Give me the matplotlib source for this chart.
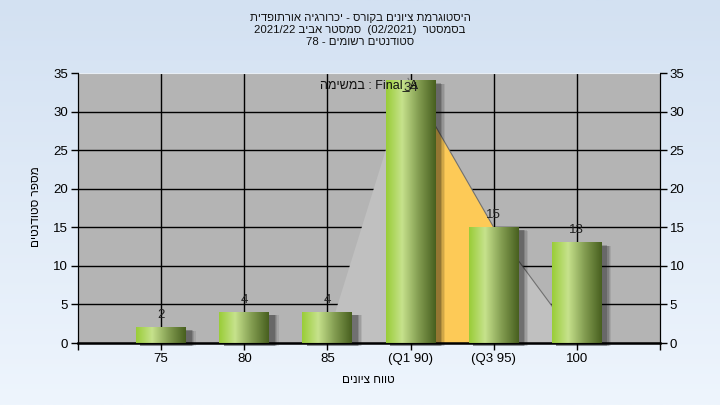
import matplotlib
matplotlib.use('Agg')
import matplotlib.pyplot as plt
from matplotlib.colors import LinearSegmentedColormap
from matplotlib.patches import Rectangle, Polygon
import numpy as np

plt.rcParams['font.family'] = ['Liberation Sans', 'DejaVu Sans']

# data
categories = ['75', '80', '85', '(Q1 90)', '(Q3 95)', '100']
counts = [2, 4, 4, 34, 15, 13]
# approximate distribution curve drawn behind the bars (index units, students)
curve_x = [1.98, 2.97, 4.0, 5.03]
curve_y = [0, 34.3, 15.0, 0]
q1_index = 3
q3_index = 4

# Hebrew text already in visual (left to right) order
title_lines = ['תידפותרוא היגרורכי - סרוקב םינויצ תמרגוטסיה',
               '2021/22 ביבא רטסמס  (02/2021)  רטסמסב',
               '78 - םימושר םיטנדוטס']
task_label = 'המישמב : Final_A'
x_label = 'םינויצ חווט'
y_label = 'םיטנדוטס רפסמ'

fig = plt.figure(figsize=(7.2, 4.05), dpi=100)

# background gradient
bg = fig.add_axes([0, 0, 1, 1], zorder=-10)
bg_cmap = LinearSegmentedColormap.from_list('bg', ['#d3e1f2', '#eef5fd'])
bg.imshow(np.linspace(0, 1, 256).reshape(-1, 1), cmap=bg_cmap, aspect='auto',
          extent=(0, 1, 0, 1), origin='upper')
bg.axis('off')

ax = fig.add_axes([78 / 720, 62 / 405, 582 / 720, 270 / 405])
ax.set_facecolor('#b4b4b4')
n = len(categories)
xs = np.arange(n)

# grid
for y in range(5, 35, 5):
    ax.axhline(y, color='black', lw=1.0, zorder=1)
for x in xs:
    ax.axvline(x, color='black', lw=1.0, zorder=1)

# distribution area
ax.add_patch(Polygon(list(zip(curve_x, curve_y)), closed=True, facecolor='#c0c0c0',
                     edgecolor='none', zorder=2))
qx = [q1_index, q3_index]
qy = list(np.interp(qx, curve_x, curve_y))
ax.add_patch(Polygon([(qx[0], 0), (qx[0], qy[0]), (qx[1], qy[1]), (qx[1], 0)],
                     closed=True, facecolor='#fdca57', edgecolor='none', zorder=2.5))
ax.plot(curve_x[1:], curve_y[1:], color='#707070', lw=0.8, zorder=2.6)

# bars with cylinder gradient
bar_cmap = LinearSegmentedColormap.from_list(
    'bar', [(0, '#9acd38'), (0.32, '#c6e28c'), (0.65, '#849e52'), (1, '#48601f')])
grad = np.linspace(0, 1, 100).reshape(1, -1)
w = 0.6
for x, h in zip(xs, counts):
    for k, a in enumerate([0.08, 0.10, 0.13, 0.18]):
        off = 0.016 * (4 - k)
        ax.add_patch(Rectangle((x - w / 2 + 0.05, -0.4), w + off, h + 0.4 - 0.3 - off * 2,
                               facecolor='black', alpha=a, lw=0, zorder=3, clip_on=False))
    ax.imshow(grad, cmap=bar_cmap, aspect='auto',
              extent=(x - w / 2, x + w / 2, 0, h), zorder=4)
    ax.text(x, min(h + 1.6, 33.05), str(h), ha='center', va='center',
            fontsize=9.5, color='#222222', zorder=6)

ax.set_xlim(-1, n)
ax.set_ylim(0, 35)
ax.set_xticks(np.arange(-1, n + 1))
ax.set_xticklabels([''] + categories + [''], fontsize=9.5)
ax.set_yticks(range(0, 36, 5))
ax.tick_params(axis='both', direction='out', length=5, width=1, labelsize=9.5,
               colors='black', pad=2)
for s in ['left', 'bottom', 'right']:
    ax.spines[s].set_color('black')
ax.spines['bottom'].set_linewidth(1.8)
ax.spines['top'].set_color('#e8eef5')

ax2 = ax.twinx()
ax2.set_ylim(0, 35)
ax2.set_yticks(range(0, 36, 5))
ax2.tick_params(axis='y', direction='out', length=5, width=1, labelsize=9.5, pad=2)
ax2.spines['top'].set_visible(False)

ax.text(0.5, 0.955, task_label, transform=ax.transAxes, ha='center', va='center',
        fontsize=9, color='#111111', zorder=7)

for i, line in enumerate(title_lines):
    fig.text(0.5, 1 - (18 + 12 * i) / 405, line, ha='center', va='center',
             fontsize=8.2, color='#111111')
fig.text(368 / 720, 1 - 380 / 405, x_label, ha='center', va='center', fontsize=8.5)
fig.text(36 / 720, 1 - 207 / 405, y_label, ha='center', va='center', fontsize=8.5,
         rotation=90)

fig.savefig('out.png', dpi=100)
